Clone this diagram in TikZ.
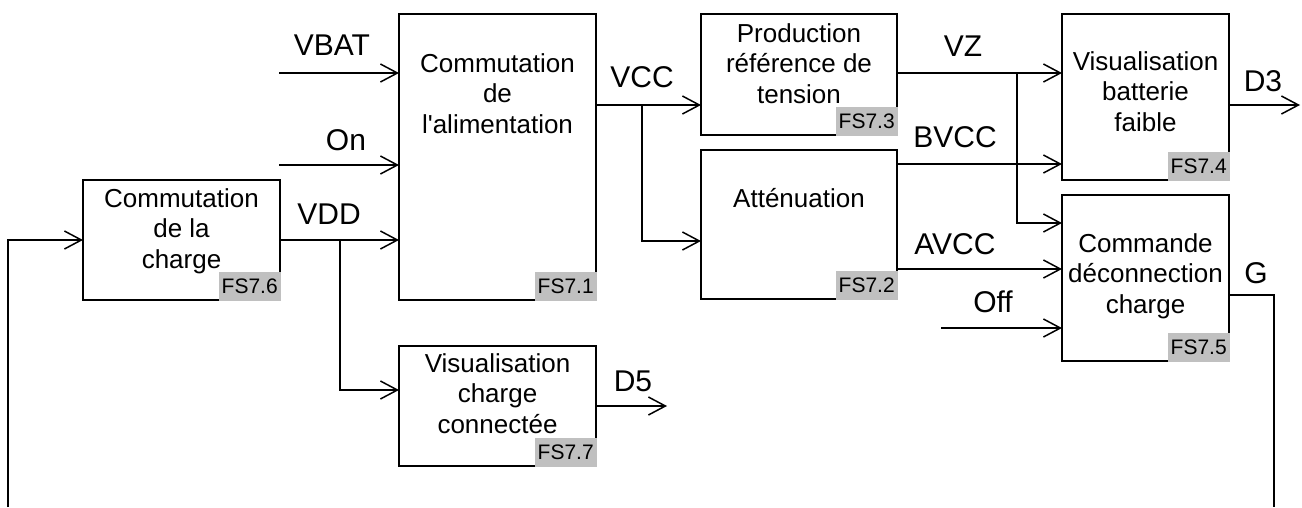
\documentclass[tikz,border=0pt]{standalone}
\usepackage{fontspec}
\setmainfont{Liberation Sans}
\usetikzlibrary{arrows.meta,calc}
\definecolor{tagGray}{RGB}{192,192,192}
\begin{document}
\begin{tikzpicture}[x=1pt,y=-1pt,
  block/.style={draw, line width=1.8pt, rectangle, inner sep=0pt, outer sep=0pt, anchor=north west},
  blocktext/.style={font=\fontsize{26}{30.5}\selectfont, align=center, anchor=north, inner sep=0pt},
  tag/.style={fill=tagGray, inner sep=0pt, minimum width=62pt, minimum height=29pt, anchor=south east,
              font=\fontsize{21}{24}\selectfont},
  sig/.style={font=\fontsize{30}{36}\selectfont, inner sep=0pt},
  wire/.style={line width=1.5pt},
  arr/.style={wire, -{Straight Barb[length=17pt,width=18pt]}}]
\useasboundingbox (0,0) rectangle (1302,507);

% function blocks
\node[block, minimum width=197pt, minimum height=120pt] (b6) at (83,180) {};
\node[block, minimum width=197pt, minimum height=286pt] (b1) at (399,14) {};
\node[block, minimum width=197pt, minimum height=120pt] (b7) at (399,346) {};
\node[block, minimum width=196pt, minimum height=121pt] (b3) at (701,14) {};
\node[block, minimum width=196pt, minimum height=149pt] (b2) at (701,150) {};
\node[block, minimum width=167pt, minimum height=166pt] (b4) at (1062,14) {};
\node[block, minimum width=167pt, minimum height=166pt] (b5) at (1062,195) {};

% block titles
\node[blocktext] (t6) at (181.5,188) {Commutation\\de la\\charge};
\node[blocktext] (t1) at (497.5,53) {Commutation\\de\\l\textquotesingle alimentation};
\node[blocktext] (t7) at (497.5,353) {Visualisation\\charge\\connectée};
\node[blocktext] (t3) at (799,23) {Production\\référence de\\tension};
\node[blocktext] (t2) at (799,188) {Atténuation};
\node[blocktext] (t4) at (1145.5,51) {Visualisation\\batterie\\faible};
\node[blocktext] (t5) at (1145.5,233) {Commande\\déconnection\\charge};

% function references
\node[tag] (f6) at ($(b6.south east)+(0.9,0.9)$) {FS7.6};
\node[tag] (f1) at ($(b1.south east)+(0.9,0.9)$) {FS7.1};
\node[tag] (f7) at ($(b7.south east)+(0.9,0.9)$) {FS7.7};
\node[tag] (f3) at ($(b3.south east)+(0.9,0.9)$) {FS7.3};
\node[tag] (f2) at ($(b2.south east)+(0.9,0.9)$) {FS7.2};
\node[tag] (f4) at ($(b4.south east)+(0.9,0.9)$) {FS7.4};
\node[tag] (f5) at ($(b5.south east)+(0.9,0.9)$) {FS7.5};

% signal coordinates
\coordinate (inVBAT) at (279,73);
\coordinate (inOn) at (279,165);
\coordinate (jVDD) at (340,240);
\coordinate (fbL) at (8,507);
\coordinate (oVCC) at (596,105);
\coordinate (jVCC) at (642,105);
\coordinate (oVZ) at (897,73);
\coordinate (jVZ) at (1017,73);
\coordinate (oBVCC) at (897,164);
\coordinate (oAVCC) at (897,269);
\coordinate (inOff) at (941,328);
\coordinate (oD3) at (1229,105);
\coordinate (eD3) at (1300,105);
\coordinate (eD5) at (667,406);
\coordinate (oG) at (1229,295);
\coordinate (fbR) at (1274,507);

% wiring
\draw[arr] (inVBAT) -- (inVBAT -| b1.west);
\draw[arr] (inOn) -- (inOn -| b1.west);
\draw[arr] (b6.east) -- (b6.east -| b1.west);
\draw[arr] (jVDD) |- ($(b7.north west)+(0,44)$);
\draw[arr] (fbL) |- (b6.west);
\draw[arr] (oVCC) -- (oVCC -| b3.west);
\draw[arr] (jVCC) |- ($(b2.north west)+(0,91)$);
\draw[arr] (oVZ) -- (oVZ -| b4.west);
\draw[arr] (jVZ) |- ($(b5.north west)+(0,28)$);
\draw[arr] (oBVCC) -- (oBVCC -| b4.west);
\draw[arr] (oAVCC) -- (oAVCC -| b5.west);
\draw[arr] (inOff) -- (inOff -| b5.west);
\draw[arr] (oD3) -- (eD3);
\draw[arr] (b7.east) -- (eD5);
\draw[wire] (oG) -| (fbR);

% signal names
\node[sig] (lVBAT) at (332,45) {VBAT};
\node[sig] (lOn) at (346,140) {On};
\node[sig] (lVDD) at (329,214) {VDD};
\node[sig] (lVCC) at (642,77) {VCC};
\node[sig] (lVZ) at (963,46) {VZ};
\node[sig] (lBVCC) at (955,137) {BVCC};
\node[sig] (lAVCC) at (955,244) {AVCC};
\node[sig] (lOff) at (993,302) {Off};
\node[sig] (lD3) at (1263,81) {D3};
\node[sig] (lG) at (1256,273) {G};
\node[sig] (lD5) at (633,381) {D5};
\end{tikzpicture}
\end{document}
